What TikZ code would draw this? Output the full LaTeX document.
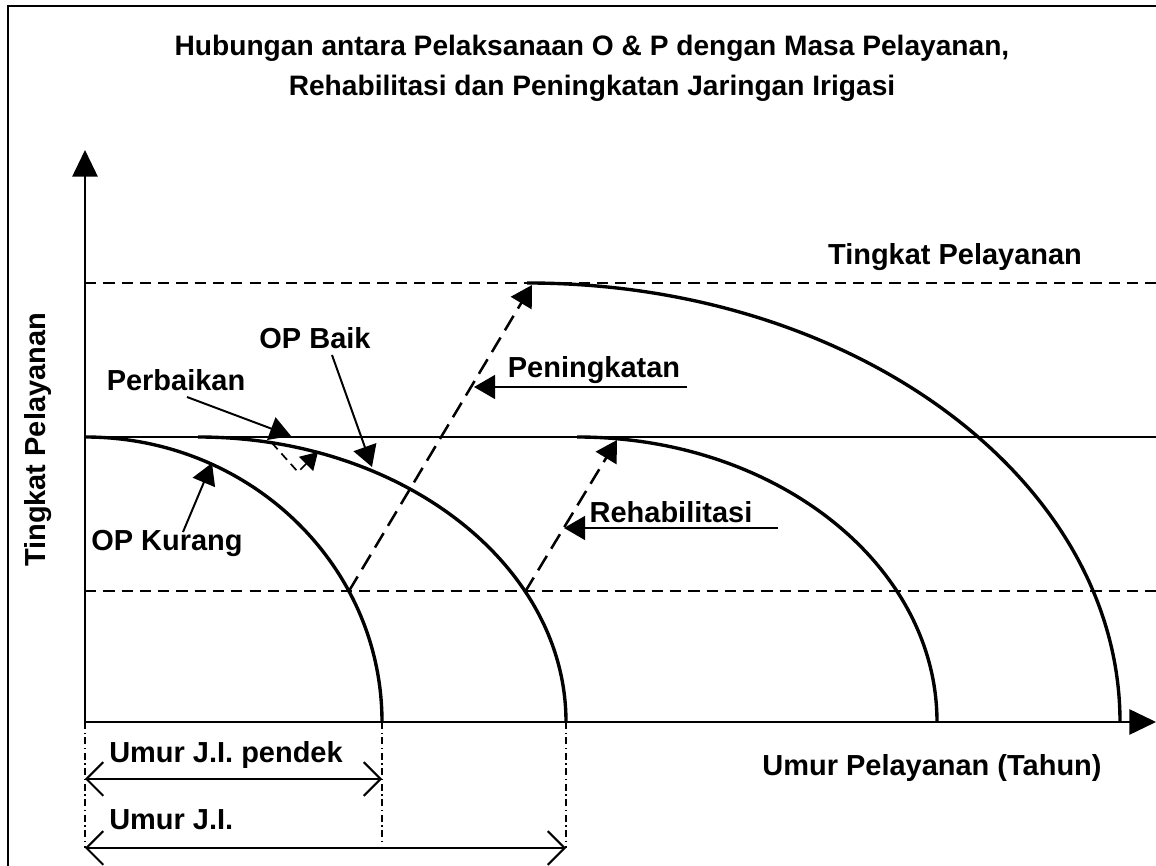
\documentclass[tikz,border=0pt]{standalone}
\usepackage{fontspec}
\setmainfont{Liberation Sans}
\usetikzlibrary{arrows.meta}
\usetikzlibrary{positioning}
\tikzset{>=latex}
\tikzstyle{lbl} = [draw=none, font=\bfseries\fontsize{20.6}{28.4}\selectfont, inner sep=0pt]
\tikzstyle{life} = [line width=2.4pt]
\tikzstyle{level} = [line width=1pt]
\tikzstyle{leveldash} = [line width=1pt, dash pattern=on 8pt off 5pt]
\tikzstyle{axis} = [line width=1.4pt, -{Triangle[length=19pt,width=18pt]}]
\tikzstyle{jump} = [line width=1.8pt, dash pattern=on 12pt off 6pt, -{Triangle[length=15pt,width=17pt]}]
\tikzstyle{pointer} = [line width=1.4pt, -{Triangle[length=15pt,width=17pt]}]
\tikzstyle{guide} = [line width=0.8pt, dash pattern=on 5pt off 2.5pt on 1pt off 2.5pt]
\tikzstyle{span} = [line width=1.4pt, {Straight Barb[length=12pt,width=24pt]}-{Straight Barb[length=12pt,width=24pt]}]

\begin{document}
\begin{tikzpicture}[x=0.025cm, y=0.025cm]
\useasboundingbox (0,0) rectangle (1156,866);
\draw [line width=1.4pt] (1156,860) -- (8,860) -- (8,0);

% axes
\coordinate (O) at (85,144);
\coordinate (Xend) at (1156,144);
\coordinate (Yend) at (85,716);
\draw [axis] (O) -- (Xend);
\draw [axis] (O) -- (Yend);

% service levels
\coordinate (Ltop) at (85,583);
\coordinate (Rtop) at (1156,583);
\coordinate (Lmid) at (85,429);
\coordinate (Rmid) at (1156,429);
\coordinate (Llow) at (85,275);
\coordinate (Rlow) at (1156,275);
\draw [leveldash] (Ltop) -- (Rtop);
\draw [level] (Lmid) -- (Rmid);
\draw [leveldash] (Llow) -- (Rlow);

% service life curves
\coordinate (Kurang) at (85,429);
\coordinate (Baik) at (198,429);
\coordinate (Rehab) at (577,429);
\coordinate (Tingkat) at (527,583);
\draw [life] (Kurang) arc [start angle=90, end angle=0, x radius=297, y radius=285];
\draw [life] (Baik) arc [start angle=90, end angle=0, x radius=368, y radius=285];
\draw [life] (Rehab) arc [start angle=90, end angle=0, x radius=360, y radius=285];
\draw [life] (Tingkat) arc [start angle=90, end angle=0, x radius=593, y radius=439];

% upgrades
\coordinate (PKfrom) at (349,275);
\coordinate (PKto) at (532,581);
\coordinate (RHfrom) at (525,274);
\coordinate (RHto) at (617,426);
\draw [jump] (PKfrom) -- (PKto);
\draw [jump] (RHfrom) -- (RHto);

% repair dip
\coordinate (DipA) at (272,423);
\coordinate (DipB) at (298,394);
\coordinate (DipC) at (318,414);
\draw [jump, line width=1.2pt, dash pattern=on 6pt off 4pt, -{Triangle[length=12pt,width=14pt]}] (DipA) -- (DipB) -- (DipC);

% labels
\node [lbl, align=center, font=\bfseries\fontsize{20}{28.4}\selectfont] (title) at (592,798) {Hubungan antara Pelaksanaan O \& P dengan Masa Pelayanan,\\Rehabilitasi dan Peningkatan Jaringan Irigasi};
\node [lbl] (tp) at (955,609) {Tingkat Pelayanan};
\node [lbl, rotate=90] (ylab) at (38,426) {Tingkat Pelayanan};
\node [lbl] (xlab) at (932,98) {Umur Pelayanan (Tahun)};

\node [lbl] (pk) at (594,496) {Peningkatan};
\coordinate (pkA) at (687,479);
\coordinate (pkB) at (474,479);
\draw [pointer] (pkA) -- (pkB);

\node [lbl] (rh) at (671,354) {Rehabilitasi};
\coordinate (rhA) at (778,338);
\coordinate (rhB) at (564,338);
\draw [pointer] (rhA) -- (rhB);

\node [lbl] (opb) at (315,528) {OP Baik};
\coordinate (opbA) at (332,511);
\coordinate (opbB) at (372,399);
\draw [pointer] (opbA) -- (opbB);

\node [lbl] (pb) at (176,486) {Perbaikan};
\coordinate (pbA) at (187,469);
\coordinate (pbB) at (291,430);
\draw [pointer] (pbA) -- (pbB);

\node [lbl] (opk) at (167,323) {OP Kurang};
\coordinate (opkA) at (183,334);
\coordinate (opkB) at (212,403);
\draw [pointer] (opkA) -- (opkB);

% service life spans
\coordinate (S0) at (85,18);
\coordinate (S1) at (382,25);
\coordinate (S2) at (566,18);
\coordinate (E1) at (382,144);
\coordinate (E2) at (566,144);
\draw [guide] (O) -- (S0);
\draw [guide] (E1) -- (S1);
\draw [guide] (E2) -- (S2);
\coordinate (D1a) at (85,87);
\coordinate (D1b) at (382,87);
\draw [span] (D1a) -- (D1b);
\draw [span] (S0) -- (S2);
\node [lbl, anchor=west] (pendek) at (109,111) {Umur J.I. pendek};
\node [lbl, anchor=west] (umur) at (109,46) {Umur J.I.};
\end{tikzpicture}
\end{document}
